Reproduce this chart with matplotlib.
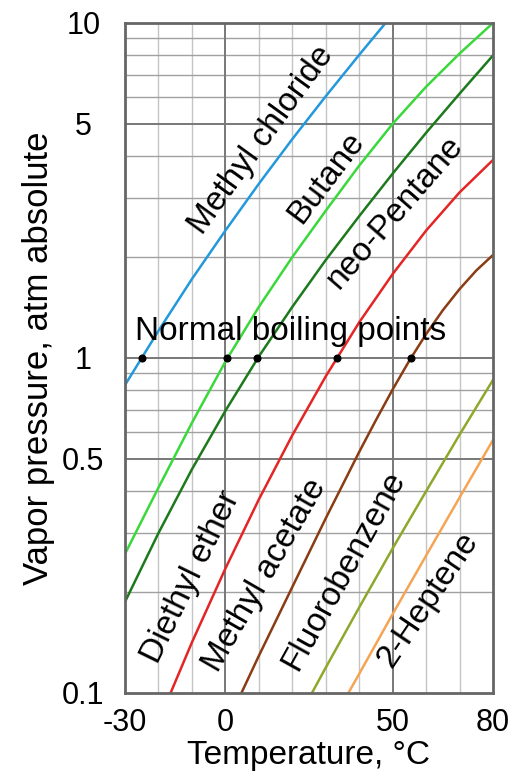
import numpy as np
import matplotlib
matplotlib.use("Agg")
import matplotlib.pyplot as plt
from matplotlib.ticker import FixedLocator, NullFormatter

plt.rcParams['font.family'] = ['Liberation Sans', 'DejaVu Sans']

# temperatures (deg C) and vapour pressures (atm absolute)
mc_t = [-30, -20, -10, 0, 10, 20, 30, 40, 50]
mc_p = [0.83, 1.205, 1.72, 2.40, 3.31, 4.50, 6.04, 8.03, 10.6]

bu_t = [-30, -20, -10, 0, 10, 20, 30, 40, 50, 60, 70, 80]
bu_p = [0.26, 0.41, 0.64, 0.975, 1.42, 2.0, 2.75, 3.75, 5.0, 6.45, 8.1, 10.0]

np_t = [-30, -20, -10, 0, 10, 20, 30, 40, 50, 60, 70, 80]
np_p = [0.187, 0.30, 0.465, 0.695, 1.01, 1.42, 1.96, 2.65, 3.55, 4.70, 6.15, 8.0]

de_t = [-20, -10, 0, 10, 20, 30, 40, 50, 60, 70, 80]
de_p = [0.082, 0.1415, 0.235, 0.378, 0.5875, 0.881, 1.277, 1.78, 2.40, 3.12, 3.9]

ma_t = [0, 10, 20, 30, 35, 40, 45, 50, 55, 60, 65, 70, 75, 80]
ma_p = [0.079, 0.129, 0.207, 0.332, 0.417, 0.524, 0.652, 0.805, 0.982,
        1.178, 1.388, 1.605, 1.824, 2.03]

fb_t = [20, 30, 40, 50, 60, 70, 80]
fb_p = [0.078, 0.119, 0.18, 0.27, 0.40, 0.59, 0.86]

hp_t = [30, 40, 50, 60, 70, 80]
hp_p = [0.076, 0.114, 0.172, 0.257, 0.383, 0.569]

series = [(mc_t, mc_p), (bu_t, bu_p), (np_t, np_p), (de_t, de_p),
          (ma_t, ma_p), (fb_t, fb_p), (hp_t, hp_p)]
colors = ['#2399dc', '#3ad83a', '#1c7a1c', '#e42525',
          '#8a3c14', '#8ea82c', '#f5a456']

# normal boiling points (the black dots)
bp_temps = [-25.0, 0.6, 9.6, 33.3, 55.5]
bp_press = [1, 1, 1, 1, 1]

names = ['Methyl chloride', 'Butane', 'neo-Pentane', 'Diethyl ether',
         'Methyl acetate', 'Fluorobenzene', '2-Heptene']
name_x = [10.8, 30.3, 50.7, -10.3, 11.9, 35.5, 60.6]
name_y = [4.48, 3.45, 2.73, 0.222, 0.225, 0.232, 0.19]
name_rot = [54, 53, 49, 64, 60, 61, 56]

fig = plt.figure(figsize=(5.16, 7.76), dpi=100)
ax = fig.add_axes([0.2422, 0.1070, 0.9554 - 0.2422, 0.9704 - 0.1070])
ax.set_yscale('log')
ax.set_xlim(-30, 80)
ax.set_ylim(0.1, 10)

# grid
minor_x = [-20, -10, 10, 20, 30, 40, 60, 70]
minor_y = [0.2, 0.3, 0.4, 0.6, 0.7, 0.8, 0.9, 2, 3, 4, 6, 7, 8, 9]
for v in minor_x:
    ax.axvline(v, color='#c4c4c4', lw=1.0, zorder=0)
for v in minor_y:
    ax.axhline(v, color='#a0a0a0', lw=1.0, zorder=0)
for v in [0, 50]:
    ax.axvline(v, color='#787878', lw=1.4, zorder=0.5)
for v in [0.5, 1, 5]:
    ax.axhline(v, color='#787878', lw=1.4, zorder=0.5)

for (t, p), c in zip(series, colors):
    ax.plot(t, p, color=c, lw=1.8, zorder=2)

ax.plot(bp_temps, bp_press, 'o', color='black', ms=4.8, zorder=3)
ax.text(19.5, 1.13, 'Normal boiling points', fontsize=24, ha='center',
        va='baseline', zorder=4)

for n, x, y, r in zip(names, name_x, name_y, name_rot):
    ax.text(x, y, n, fontsize=24, rotation=r, rotation_mode='anchor',
            ha='center', va='center', zorder=4)

ax.xaxis.set_major_locator(FixedLocator([-30, 0, 50, 80]))
ax.set_xticklabels(['-30', '0', '50', '80'])
ax.yaxis.set_major_locator(FixedLocator([0.1, 0.5, 1, 5, 10]))
ax.yaxis.set_minor_locator(FixedLocator([]))
ax.yaxis.set_minor_formatter(NullFormatter())
ax.set_yticklabels(['0.1', '0.5', '1', '5', '10'])
for lab in ax.get_yticklabels():
    lab.set_ha('center')
ax.tick_params(axis='both', length=0, labelsize=22)
ax.tick_params(axis='y', pad=30)
ax.tick_params(axis='x', pad=11)

for s in ax.spines.values():
    s.set_color('#666666')
    s.set_linewidth(2.0)

ax.set_xlabel('Temperature, °C', fontsize=24, labelpad=1)
ax.set_ylabel('Vapor pressure, atm absolute', fontsize=25, labelpad=5)

fig.savefig('out.png', dpi=100)
